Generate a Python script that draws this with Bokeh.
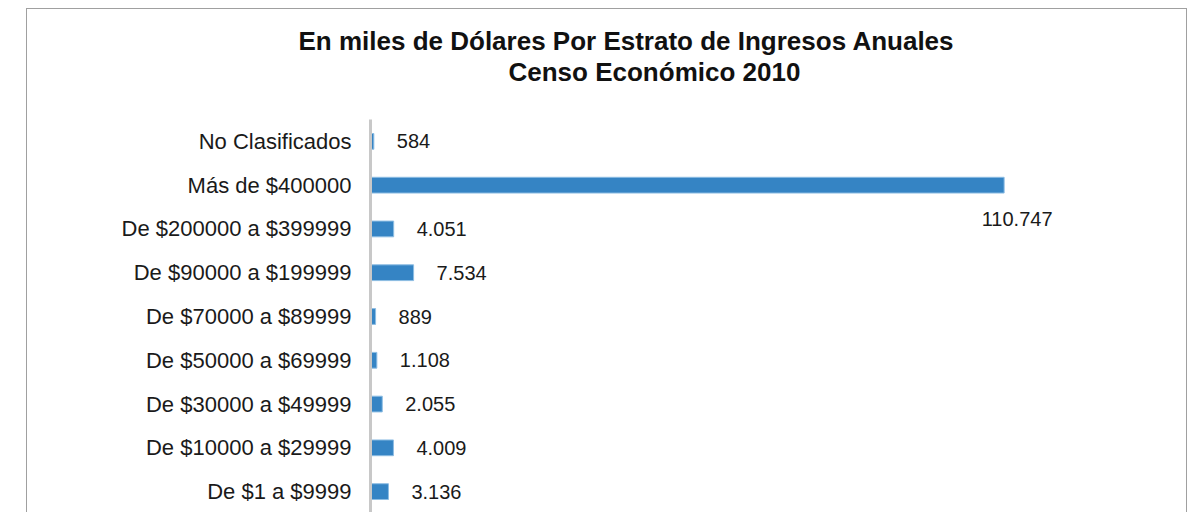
from bokeh.plotting import figure
from bokeh.models import ColumnDataSource, FactorRange, Range1d, LabelSet, Title
from bokeh.core.properties import value
from bokeh.embed import file_html
from bokeh.resources import INLINE

categories = ["No Clasificados", "Más de $400000", "De $200000 a $399999",
              "De $90000 a $199999", "De $70000 a $89999", "De $50000 a $69999",
              "De $30000 a $49999", "De $10000 a $29999", "De $1 a $9999"]
values = [584, 110747, 4051, 7534, 889, 1108, 2055, 4009, 3136]
title_lines = ["En miles de Dólares Por Estrato de Ingresos Anuales",
               "Censo Económico 2010"]

def fmt(v):
    return f"{v:,}".replace(",", ".")

labels = [fmt(v) for v in values]
vmax = max(values)

src = ColumnDataSource(dict(cat=categories, val=values, lab=labels))
normal_idx = [i for i, v in enumerate(values) if v != vmax]
big_idx = [i for i, v in enumerate(values) if v == vmax]
src_norm = ColumnDataSource(dict(cat=[categories[i] for i in normal_idx],
                                 val=[values[i] for i in normal_idx],
                                 lab=[labels[i] for i in normal_idx]))
src_big = ColumnDataSource(dict(cat=[categories[i] for i in big_idx],
                                val=[values[i] for i in big_idx],
                                lab=[labels[i] for i in big_idx]))

p = figure(width=1161, height=504, output_backend="svg", toolbar_location=None,
           title=None,
           y_range=FactorRange(factors=list(reversed(categories)), range_padding=0),
           x_range=Range1d(0, 140000), x_axis_location=None,
           min_border_left=343, min_border_right=17, min_border_top=110,
           min_border_bottom=0,
           styles={"margin-left": "26px", "margin-top": "8px",
                   "border-left": "1px solid #a0a0a0",
                   "border-top": "1px solid #a0a0a0",
                   "border-right": "1px solid #a0a0a0"})

p.outline_line_color = None
p.grid.visible = False
p.background_fill_color = "white"
p.border_fill_color = "white"

p.hbar(y="cat", right="val", left=0, height=0.36, source=src,
       fill_color="#3584C4", line_color="#8dbde3", line_width=1)

ax = p.yaxis[0]
ax.axis_line_color = "#c8c8c8"
ax.axis_line_width = 3
ax.major_tick_line_color = None
ax.minor_tick_line_color = None
ax.major_label_standoff = 13
ax.major_label_text_font = "Liberation Sans"
ax.major_label_text_font_size = "22px"
ax.major_label_text_color = "#1a1a1a"

p.add_layout(LabelSet(x="val", y="cat", text="lab", source=src_norm,
                      x_offset=23, text_baseline="middle", text_align="left",
                      text_font=value("Liberation Sans"), text_font_size="20px",
                      text_color="#1a1a1a"))
p.add_layout(LabelSet(x="val", y="cat", text="lab", source=src_big,
                      x_offset=13, y_offset=-34, text_baseline="middle",
                      text_align="center",
                      text_font=value("Liberation Sans"), text_font_size="20px",
                      text_color="#1a1a1a"))

t2 = Title(text=title_lines[1], align="left", offset=138, standoff=66,
           text_font="Liberation Sans", text_font_style="bold",
           text_font_size="26px", text_color="#111111")
t1 = Title(text=title_lines[0], align="left", offset=-72, standoff=-69,
           text_font="Liberation Sans", text_font_style="bold",
           text_font_size="26px", text_color="#111111")
p.add_layout(t2, "above")
p.add_layout(t1, "above")

open("out.html", "w").write(file_html(p, INLINE))
